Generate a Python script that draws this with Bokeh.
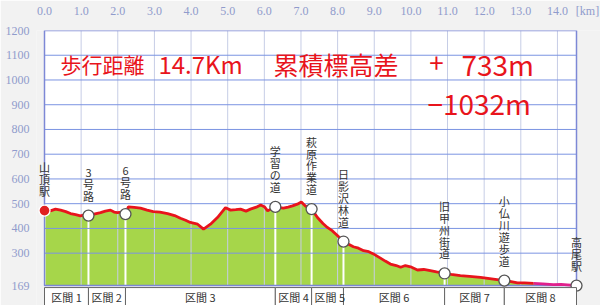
from bokeh.plotting import figure
from bokeh.models import ColumnDataSource, FixedTicker, Label, Range1d
from bokeh.embed import file_html
from bokeh.resources import INLINE
from bokeh.core.properties import value

# ---- data ----
dist_km = [0.00, 0.16, 0.30, 0.44, 0.58, 0.71, 0.85, 0.98, 1.10, 1.20, 1.35, 1.53, 1.66,
           1.80, 1.90, 1.99, 2.10, 2.21, 2.29, 2.45, 2.62, 2.80, 2.97, 3.15, 3.36, 3.55,
           3.71, 3.85, 3.98, 4.18, 4.34, 4.53, 4.72, 4.94, 5.08, 5.22, 5.35, 5.50, 5.62,
           5.78, 5.90, 6.00, 6.09, 6.20, 6.30, 6.42, 6.52, 6.65, 6.77, 6.90, 7.01, 7.12,
           7.20, 7.29, 7.45, 7.60, 7.72, 7.86, 8.00, 8.16, 8.30, 8.43, 8.57, 8.71, 8.85,
           8.95, 9.17, 9.30, 9.44, 9.60, 9.72, 9.85, 9.99, 10.18, 10.35, 10.53, 10.70,
           10.92, 11.10, 11.35, 11.60, 11.90, 12.20, 12.55, 12.70, 12.91, 13.10, 13.35,
           13.60, 13.89, 14.10, 14.27, 14.52]
elev_m = [472, 471, 478, 474, 468, 460, 456, 451, 455, 452, 458, 464, 470,
          474, 466, 464, 466, 458, 487, 485, 482, 474, 468, 466, 460, 452,
          441, 433, 424, 417, 397, 417, 444, 484, 474, 476, 478, 470, 478,
          486, 495, 488, 471, 480, 487, 484, 482, 486, 491, 498, 507, 491,
          485, 478, 444, 420, 404, 390, 370, 347, 336, 326, 320, 310, 306,
          299, 280, 268, 256, 250, 243, 250, 245, 232, 234, 229, 224,
          218, 214, 209, 206, 202, 196, 189, 186, 180, 180, 178,
          176, 173, 174, 172, 169]
pink_from_km = 13.35

point_names = ["山頂駅", "3号路", "6号路", "学習の道", "萩原作業道", "日影沢林道",
               "旧甲州街道", "小仏川遊歩道", "高尾駅"]
point_km = [0.00, 1.20, 2.21, 6.30, 7.29, 8.16, 10.92, 12.55, 14.52]
point_elev = [472, 452, 458, 487, 478, 347, 218, 189, 169]

section_names = ["区間 1", "区間 2", "区間 3", "区間 4", "区間 5", "区間 6", "区間 7", "区間 8"]

x_ticks = list(range(15))
x_tick_labels = ["%.1f" % t for t in x_ticks]
x_unit_pos = 14.82
x_unit_label = "[km]"
y_ticks = [169, 300, 400, 500, 600, 700, 800, 900, 1000, 1100, 1200]
y_grid = [300, 400, 500, 600, 700, 800, 900, 1000, 1100]
y_min, y_max = 169, 1200
x_max = 14.52

# ---- figure: frame also holds the section band below the profile ----
px_per_km = 532 / x_max
m_per_px = (y_max - y_min) / 256.0
x_lo = -8 / px_per_km
x_hi = x_max + 24 / px_per_km
y_lo = y_min - 20 * m_per_px
band_top = y_min - 2 * m_per_px
band_text_y = y_min - 11.5 * m_per_px

p = figure(width=600, height=305, output_backend="svg", toolbar_location=None,
           x_range=Range1d(x_lo, x_hi), y_range=Range1d(y_lo, y_max),
           x_axis_location="above", min_border_left=36, min_border_right=0,
           min_border_top=29, min_border_bottom=0)
p.background_fill_color = "#f2f2f2"
p.border_fill_color = "#f2f2f2"
p.outline_line_color = None
p.grid.visible = False

axis_font = "Liberation Serif"
for ax in (p.xaxis[0], p.yaxis[0]):
    ax.axis_line_color = None
    ax.major_tick_line_color = None
    ax.minor_tick_line_color = None
    ax.major_label_text_font = axis_font
    ax.major_label_text_font_size = "12px"
    ax.major_label_text_color = "#909bcc"
p.xaxis[0].ticker = FixedTicker(ticks=x_ticks + [x_unit_pos])
overrides = {t: l for t, l in zip(x_ticks, x_tick_labels)}
overrides[x_unit_pos] = x_unit_label
p.xaxis[0].major_label_overrides = overrides
p.xaxis[0].major_label_standoff = 7
p.yaxis[0].ticker = FixedTicker(ticks=y_ticks)
p.yaxis[0].major_label_standoff = 1

# plot area (white) and profile fill
bg = p.quad(left=0, right=x_max, bottom=y_min, top=y_max, fill_color="white", line_color=None)
bg.level = "image"
src = ColumnDataSource(dict(x=dist_km, y=elev_m))
area = p.varea(x="x", y1=y_min, y2="y", source=src, fill_color="#a6d64a")
area.level = "image"
drops = p.segment(x0=point_km, y0=[y_min] * len(point_km), x1=point_km, y1=point_elev,
                  line_color="white", line_width=2)
drops.level = "image"

# grid lines drawn over the fill
vg = p.segment(x0=x_ticks[1:], y0=[y_min] * 14, x1=x_ticks[1:], y1=[y_max] * 14,
               line_color="#c6cde6", line_width=1)
vg.level = "underlay"
hg = p.segment(x0=[0] * len(y_grid), y0=y_grid, x1=[x_max] * len(y_grid), y1=y_grid,
               line_color="#7b94e2", line_width=1)
hg.level = "underlay"
frame = p.quad(left=0, right=x_max, bottom=y_min, top=y_max, fill_color=None,
               line_color="#7d88d6", line_width=1.5)
frame.level = "underlay"

# profile line
split = next(i for i, d in enumerate(dist_km) if d >= pink_from_km)
p.line(dist_km[:split + 1], elev_m[:split + 1], line_color="#e8141c", line_width=2.8)
p.line(dist_km[split:], elev_m[split:], line_color="#e0208c", line_width=2.8)

p.scatter(point_km[1:], point_elev[1:], size=11, fill_color="white",
          line_color="#555555", line_width=1.3)
p.scatter(point_km[:1], point_elev[:1], size=11, fill_color="#e02020",
          line_color="white", line_width=1.3)

# vertical place names
lab_src = ColumnDataSource(dict(x=point_km, y=point_elev,
                                t=["\n".join(list(n)) for n in point_names]))
p.text(x="x", y="y", text="t", source=lab_src, y_offset=-12,
       text_align="center", text_baseline="bottom",
       text_font=value("Noto Sans CJK JP"), text_font_size="11px",
       text_line_height=0.74, text_color="#333333")

# title texts
red = "#e8141c"
title_font = "Noto Sans CJK JP"
def add_label(x, y, text, size):
    p.add_layout(Label(x=x, y=y, text=text, text_color=red, text_font=title_font,
                       text_font_size=size, text_baseline="middle", text_align="left"))

add_label(0.44, 1066, "歩行距離", "21px")
add_label(3.11, 1066, "14.7Km", "24px")
add_label(6.25, 1066, "累積標高差", "25px")
add_label(10.50, 1066, "+", "26px")
add_label(11.38, 1066, "733m", "28px")
add_label(10.45, 905, "−1032m", "28px")

# section band
lefts = point_km[:-1]
rights = point_km[1:]
p.quad(left=lefts, right=rights, bottom=y_lo - 20, top=band_top, fill_color="white",
       line_color="#666666", line_width=1)
widths = [r - l for l, r in zip(lefts, rights)]
tx = [l + 0.08 if w < 1.2 else (l + r) / 2 for l, r, w in zip(lefts, rights, widths)]
ta = ["left" if w < 1.2 else "center" for w in widths]
sec_src = ColumnDataSource(dict(x=tx, t=section_names, a=ta))
p.text(x="x", y=band_text_y, text="t", source=sec_src, text_align="a",
       text_baseline="middle", text_font=value("Noto Sans CJK JP"),
       text_font_size="11px", text_color="#333333")

open("out.html", "w").write(file_html(p, INLINE))
